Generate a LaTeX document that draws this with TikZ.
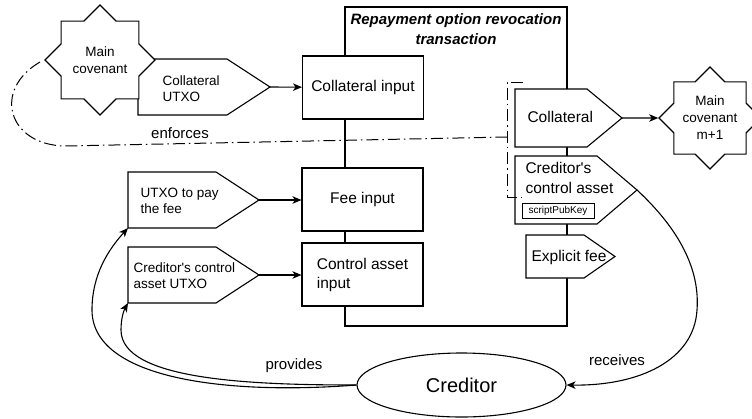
\documentclass[tikz,border=0pt]{standalone}
\usepackage{fontspec}
\setmainfont{Liberation Sans}
\usetikzlibrary{arrows.meta,shapes.geometric}

% pentagon-shaped panel pointing right: name, left, top, flat end, tip, bottom
\newcommand\arrowpanel[6]{%
  \draw[panel] (#2,#3) -- (#4,#3) -- (#5,{(#3+#6)/2}) -- (#4,#6) -- (#2,#6) -- cycle;
  \coordinate (#1-tip) at (#5,{(#3+#6)/2});
  \coordinate (#1-sw) at (#2,#6);
}

\begin{document}
\begin{tikzpicture}[x=1pt,y=-1pt,line width=1.1pt,line join=miter,
  panel/.style={draw,fill=white},
  inbox/.style={draw,fill=white,inner sep=0pt,minimum width=121pt,minimum height=63pt,
    align=left,font=\fontsize{15.5}{19}\selectfont},
  intxt/.style={anchor=west,align=left,inner sep=0pt,font=\fontsize{13.5}{16}\selectfont},
  outtxt/.style={anchor=west,align=left,inner sep=0pt,font=\fontsize{15.5}{20}\selectfont},
  covenant/.style={draw,fill=white,star,star points=8,star point ratio=1.3066,
    inner sep=0pt,align=center,font=\fontsize{13.5}{17}\selectfont},
  lbl/.style={inner sep=0pt,font=\fontsize{15}{18}\selectfont},
  conn/.style={-{Stealth[length=9pt,width=7.5pt,inset=2.5pt]}},
  enf/.style={line width=1pt,dash pattern=on 12pt off 4pt on 1.5pt off 4pt}]

\fill[white] (0,0) rectangle (752,418);
\useasboundingbox (0,0) rectangle (752,418);

% transaction frame
\node[draw,inner sep=0pt,minimum width=222pt,minimum height=319pt] (tx) at (456,166.5) {};
\node[inner sep=0pt,align=center,font=\fontsize{15}{20}\selectfont\bfseries\itshape] (title)
  at (456,29) {Repayment option revocation\\transaction};

% inputs
\node[inbox] (colin) at (363,87.5) {Collateral input};
\node[inbox] (feein) at (362.5,199.5) {Fee input};
\node[inbox] (ctrlin) at (362.5,274.5) {Control asset\\input};

% UTXOs being spent
\arrowpanel{cutxo}{138}{59}{227}{270}{115}
\node[intxt] (cutxotxt) at (162,89) {Collateral\\UTXO};
\node[covenant,minimum size=110pt] (mc) at (100,60) {Main\\covenant};

\arrowpanel{feeutxo}{128}{172}{216}{259}{228}
\node[intxt] (feeutxotxt) at (140,201) {UTXO to pay\\the fee};
\arrowpanel{ctrlutxo}{128}{247}{216}{259}{303}
\node[intxt] (ctrlutxotxt) at (133,276) {Creditor\textquotesingle s control\\asset UTXO};

% outputs
\arrowpanel{colout}{515}{89}{587}{622}{147}
\node[outtxt] (colouttxt) at (527,117) {Collateral};
\arrowpanel{credout}{515}{156}{597}{637}{224}
\node[outtxt] (credouttxt) at (525,178) {Creditor\textquotesingle s\\control asset};
\node[draw,line width=0.9pt,inner sep=0pt,minimum width=72pt,minimum height=15pt,
  font=\fontsize{10}{12}\selectfont] (spk) at (558,210.5) {scriptPubKey};
\arrowpanel{feeout}{526}{235}{584}{615}{278}
\node[outtxt] (feeouttxt) at (531,257) {Explicit fee};

\node[covenant,minimum size=102pt] (mcnext) at (710,118) {Main\\covenant\\m+1};

% spending arrows
\draw[conn] (cutxo-tip) -- (colin);
\draw[conn] (feeutxo-tip) -- (feein.west |- feeutxo-tip);
\draw[conn] (ctrlutxo-tip) -- (ctrlin.west |- ctrlutxo-tip);
\draw[conn] (colout-tip) -- (mcnext);

% covenant enforcement
\coordinate (enfstart) at (40,62);
\coordinate (brk) at (507,137);
\draw[enf] (enfstart) .. controls (-8,90) and (8,145) .. (65,146) -- (brk);
\draw[enf] (523,82) -- (507,82) -- (507,197) -- (522,197);
\node[lbl] (enflbl) at (180,133) {enforces};

% creditor
\node[draw,ellipse,minimum width=209pt,minimum height=64pt,inner sep=0pt,
  font=\fontsize{20}{24}\selectfont] (cred) at (461.5,385) {Creditor};
\draw[conn] (cred.west) .. controls (230,395) and (92,380) .. (92,310)
  .. controls (92,275) and (108,250) .. (feeutxo-sw);
\draw[conn] (cred.west) .. controls (250,385) and (121,380) .. (121,330)
  .. controls (121,318) and (124,310) .. (ctrlutxo-sw);
\node[lbl] (provlbl) at (294,366) {provides};
\draw[conn] (credout-tip) .. controls (680,230) and (700,270) .. (697,310)
  .. controls (694,360) and (640,386) .. (cred.east);
\node[lbl] (reclbl) at (617,360) {receives};

\end{tikzpicture}
\end{document}
